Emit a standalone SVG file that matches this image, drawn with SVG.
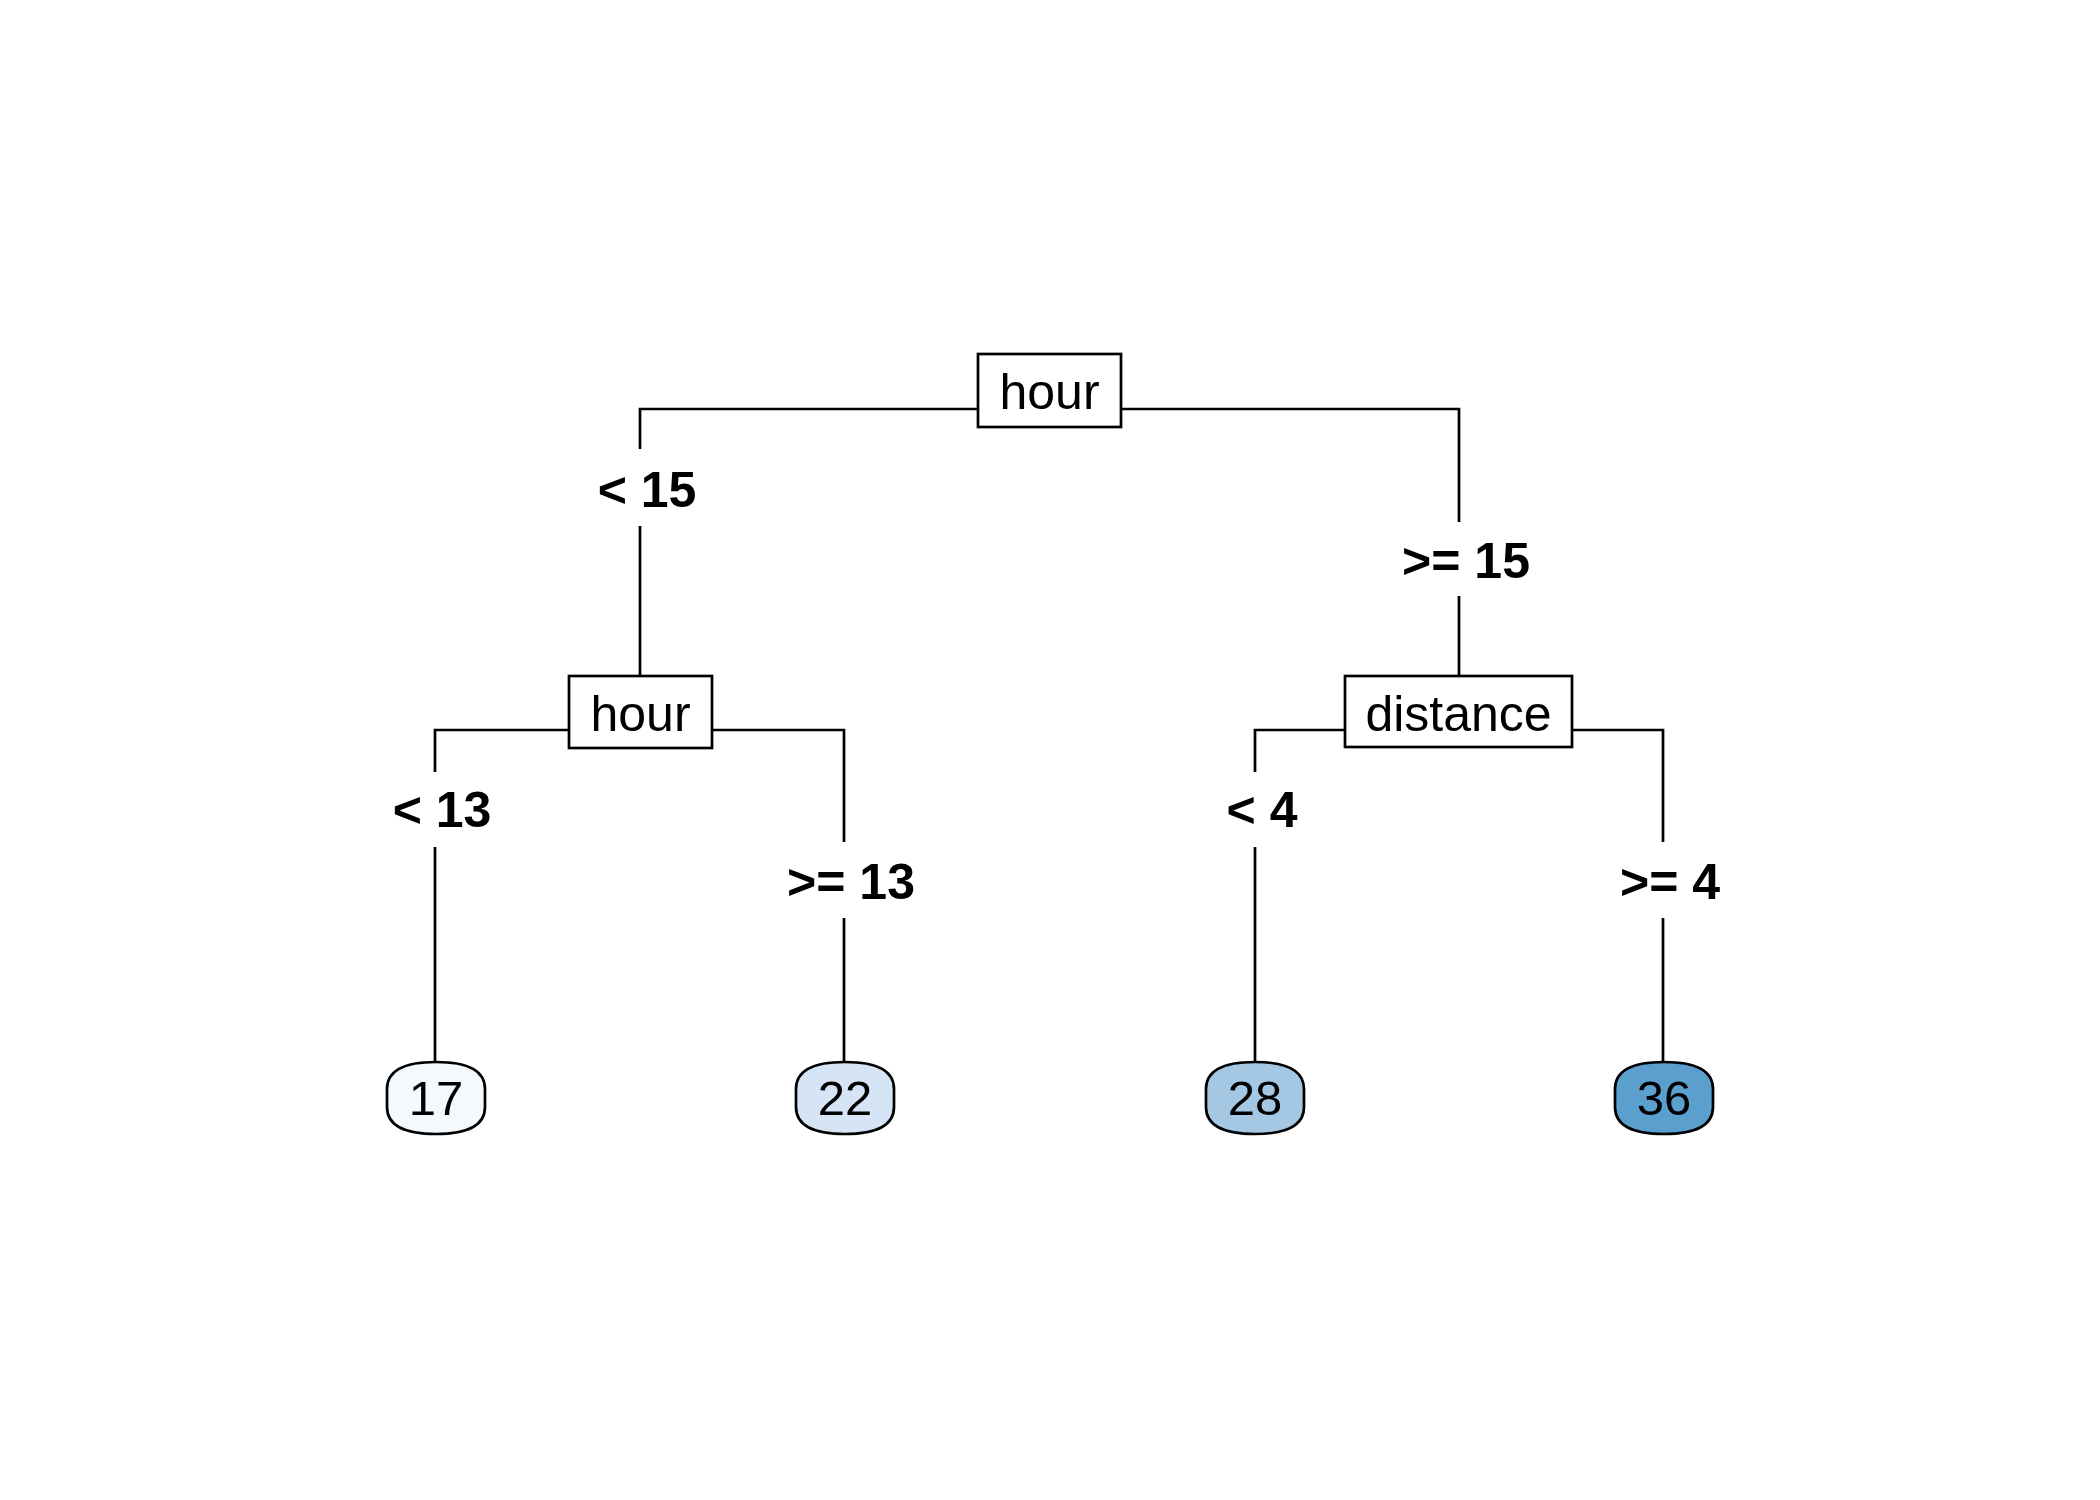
<svg xmlns="http://www.w3.org/2000/svg" width="2100" height="1500" viewBox="0 0 2100 1500">
<style>
.ln{fill:none;stroke:#000;stroke-width:2.7}
.box{fill:#fff;stroke:#000;stroke-width:2.7}
.leaf{stroke:#000;stroke-width:2.7}
.nt{font-family:"Liberation Sans",Arial,sans-serif;font-size:50px;text-anchor:middle;fill:#000}
.lt{font-family:"Liberation Sans",Arial,sans-serif;font-size:49px;text-anchor:middle;fill:#000}
.et{font-family:"Liberation Sans",Arial,sans-serif;font-size:50px;font-weight:bold;text-anchor:middle;fill:#000}
</style>
<defs>
<path id="leafshape" d="M-49 -9C-49 -27 -32 -36 0 -36C32 -36 49 -27 49 -9V9C49 27 32 36 0 36C-32 36 -49 27 -49 9Z"/>
</defs>
<rect width="2100" height="1500" fill="#fff"/>
<g id="connectors">
<path class="ln" d="M978 409H640V449M640 526V676"/>
<path class="ln" d="M1121 409H1459V522M1459 596V676"/>
<path class="ln" d="M569 730H435V772M435 847V1062"/>
<path class="ln" d="M712 730H844V842M844 918V1062"/>
<path class="ln" d="M1345 730H1255V772M1255 847V1062"/>
<path class="ln" d="M1572 730H1663V842M1663 918V1062"/>
<text class="et" x="647" y="507">&lt; 15</text>
<text class="et" x="1466" y="578">&gt;= 15</text>
<text class="et" x="442" y="827">&lt; 13</text>
<text class="et" x="851" y="899">&gt;= 13</text>
<text class="et" x="1262" y="827">&lt; 4</text>
<text class="et" x="1670" y="899">&gt;= 4</text>
</g>
<g id="node-root">
<rect class="box" x="978" y="354" width="143" height="73"/>
<text class="nt" x="1049.5" y="409">hour</text>
</g>
<g id="node-hour2">
<rect class="box" x="569" y="676" width="143" height="72"/>
<text class="nt" x="640.5" y="731">hour</text>
</g>
<g id="node-distance">
<rect class="box" x="1345" y="676" width="227" height="71"/>
<text class="nt" x="1458.5" y="731">distance</text>
</g>
<g id="leaf-17">
<use href="#leafshape" class="leaf" x="436" y="1098" fill="#F4F9FE"/>
<text class="lt" x="436" y="1115">17</text>
</g>
<g id="leaf-22">
<use href="#leafshape" class="leaf" x="845" y="1098" fill="#D5E5F5"/>
<text class="lt" x="845" y="1115">22</text>
</g>
<g id="leaf-28">
<use href="#leafshape" class="leaf" x="1255" y="1098" fill="#A4C8E3"/>
<text class="lt" x="1255" y="1115">28</text>
</g>
<g id="leaf-36">
<use href="#leafshape" class="leaf" x="1664" y="1098" fill="#5B9FCF"/>
<text class="lt" x="1664" y="1115">36</text>
</g>
</svg>
